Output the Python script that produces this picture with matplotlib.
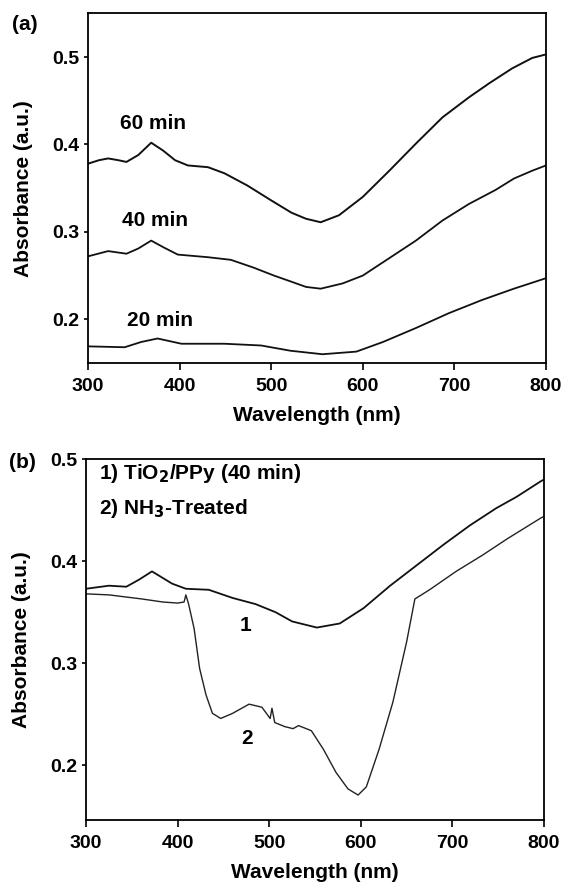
import matplotlib
matplotlib.use("Agg")
import matplotlib.pyplot as plt

plt.rcParams['font.family'] = ['Liberation Sans', 'DejaVu Sans']
plt.rcParams['font.weight'] = 'bold'
plt.rcParams['mathtext.default'] = 'bf'

# ---- panel (a): absorbance vs polymerisation time ----
wl_60 = [300, 312, 322, 333, 342, 355, 369, 382, 395, 409, 431, 449, 474, 500, 522, 538, 554,
         574, 600, 629, 658, 687, 716, 738, 763, 785, 800]
abs_60 = [0.378, 0.382, 0.384, 0.382, 0.380, 0.388, 0.402, 0.393, 0.382, 0.376, 0.374, 0.367,
          0.353, 0.336, 0.322, 0.315, 0.311, 0.319, 0.340, 0.370, 0.401, 0.431, 0.454, 0.470,
          0.487, 0.499, 0.503]

wl_40 = [300, 322, 342, 355, 369, 383, 398, 431, 456, 481, 503, 522, 538, 554, 578,
         600, 629, 658, 687, 716, 745, 765, 785, 800]
abs_40 = [0.272, 0.278, 0.275, 0.281, 0.290, 0.282, 0.274, 0.271, 0.268, 0.259, 0.250, 0.243,
          0.237, 0.235, 0.241, 0.250, 0.270, 0.290, 0.313, 0.332, 0.348, 0.361, 0.370, 0.376]

wl_20 = [300, 340, 358, 376, 402, 449, 489, 521, 556, 593, 622, 658, 694, 730, 765, 800]
abs_20 = [0.169, 0.168, 0.174, 0.178, 0.172, 0.172, 0.170, 0.164, 0.160, 0.163, 0.174,
          0.190, 0.207, 0.222, 0.235, 0.247]

labels_a = ['60 min', '40 min', '20 min']
label_x_a = [371, 373, 379]
label_y_a = [0.424, 0.313, 0.199]

# ---- panel (b): before / after NH3 treatment ----
wl_b1 = [300, 325, 344, 358, 372, 394, 409, 434, 460, 485, 507, 525, 552, 577, 603, 632,
         661, 690, 719, 748, 770, 796, 800]
abs_b1 = [0.373, 0.376, 0.375, 0.382, 0.390, 0.378, 0.373, 0.372, 0.364, 0.358, 0.350,
          0.341, 0.335, 0.339, 0.354, 0.376, 0.396, 0.416, 0.435, 0.452, 0.463, 0.478, 0.480]

wl_b2 = [300, 325, 361, 384, 400, 407, 409, 412, 418, 424, 431, 438, 447, 460, 478, 492,
         501, 503, 506, 517, 526, 532, 546, 559, 573, 586, 597, 606, 620, 635, 650, 659,
         675, 704, 733, 760, 796, 800]
abs_b2 = [0.368, 0.367, 0.363, 0.360, 0.359, 0.360, 0.367, 0.358, 0.334, 0.295, 0.269,
          0.251, 0.246, 0.251, 0.260, 0.257, 0.246, 0.256, 0.242, 0.238, 0.236, 0.239,
          0.234, 0.216, 0.193, 0.177, 0.171, 0.179, 0.216, 0.262, 0.321, 0.363, 0.372,
          0.390, 0.406, 0.422, 0.442, 0.444]

legend_b = [r'1) TiO$_2$/PPy (40 min)', r'2) NH$_3$-Treated']
legend_y_b = [0.486, 0.452]
curve_tags = ['1', '2']
tag_x = [474, 476]
tag_y = [0.337, 0.226]

fs = 15
tfs = 14
fig = plt.figure(figsize=(5.63, 8.84), dpi=100)

ax1 = fig.add_axes([0.1563, 0.5894, 0.8135, 0.3955])
ax1.plot(wl_60, abs_60, color='#111111', lw=1.4)
ax1.plot(wl_40, abs_40, color='#111111', lw=1.3)
ax1.plot(wl_20, abs_20, color='#111111', lw=1.3)
for t, x, y in zip(labels_a, label_x_a, label_y_a):
    ax1.text(x, y, t, ha='center', va='center', fontsize=fs, fontweight='bold')
ax1.set_xlim(300, 800)
ax1.set_ylim(0.15, 0.55)
ax1.set_yticks([0.2, 0.3, 0.4, 0.5])

ax2 = fig.add_axes([0.1528, 0.0729, 0.8135, 0.4078])
ax2.plot(wl_b1, abs_b1, color='#111111', lw=1.3)
ax2.plot(wl_b2, abs_b2, color='#222222', lw=1.0)
for t, y in zip(legend_b, legend_y_b):
    ax2.text(314, y, t, ha='left', va='center', fontsize=fs, fontweight='bold')
for t, x, y in zip(curve_tags, tag_x, tag_y):
    ax2.text(x, y, t, ha='center', va='center', fontsize=fs, fontweight='bold')
ax2.set_xlim(300, 800)
ax2.set_ylim(0.147, 0.5)
ax2.set_yticks([0.2, 0.3, 0.4, 0.5])

for ax in (ax1, ax2):
    ax.set_xticks([300, 400, 500, 600, 700, 800])
    ax.tick_params(axis='x', direction='out', length=5, width=1.2, pad=6, labelsize=tfs)
    ax.tick_params(axis='y', direction='out', length=3, width=1.2, pad=3, labelsize=tfs)
    for sp in ax.spines.values():
        sp.set_linewidth(1.3)
    ax.set_xlabel('Wavelength (nm)', fontsize=fs, fontweight='bold', labelpad=8)
    ax.set_ylabel('Absorbance (a.u.)', fontsize=fs, fontweight='bold', labelpad=14)

fig.text(0.044, 0.972, '(a)', ha='center', va='center', fontsize=fs, fontweight='bold')
fig.text(0.040, 0.477, '(b)', ha='center', va='center', fontsize=fs, fontweight='bold')

fig.savefig('out.png', dpi=100)
